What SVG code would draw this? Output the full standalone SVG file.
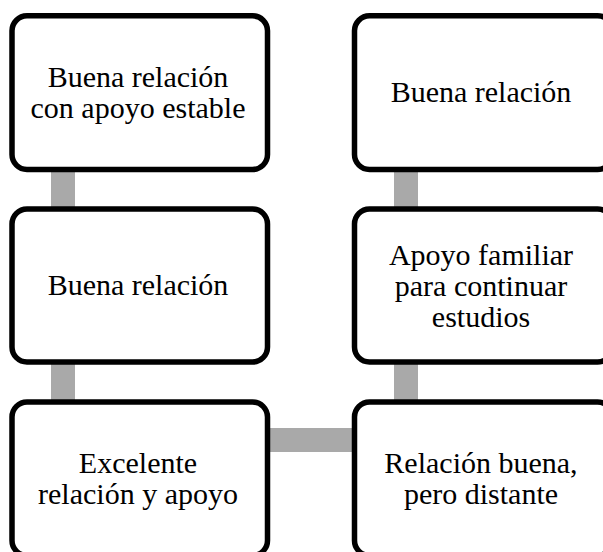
<svg xmlns="http://www.w3.org/2000/svg" width="603" height="552" viewBox="0 0 603 552">
<rect width="603" height="552" fill="#fff"/>
<g id="connectors" fill="#a9a9a9">
<rect x="51" y="169" width="24" height="42"/>
<rect x="51" y="362" width="24" height="42"/>
<rect x="394" y="169" width="24" height="42"/>
<rect x="394" y="362" width="24" height="42"/>
<rect x="267" y="428" width="88" height="24"/>
</g>
<g id="node1">
<rect x="12" y="15.8" width="255.5" height="153.7" rx="15" fill="#fff" stroke="#000" stroke-width="5.5"/>
<text x="138" y="87" style="font-family:'Liberation Serif',serif;font-size:30px" text-anchor="middle">Buena relación</text>
<text x="138" y="118" style="font-family:'Liberation Serif',serif;font-size:30px" text-anchor="middle">con apoyo estable</text>
</g>
<g id="node2">
<rect x="12" y="209" width="255.5" height="153" rx="15" fill="#fff" stroke="#000" stroke-width="5.5"/>
<text x="138" y="295" style="font-family:'Liberation Serif',serif;font-size:30px" text-anchor="middle">Buena relación</text>
</g>
<g id="node3">
<rect x="12" y="402" width="255.5" height="153.5" rx="15" fill="#fff" stroke="#000" stroke-width="5.5"/>
<text x="138" y="473" style="font-family:'Liberation Serif',serif;font-size:30px" text-anchor="middle">Excelente</text>
<text x="138" y="504" style="font-family:'Liberation Serif',serif;font-size:30px" text-anchor="middle">relación y apoyo</text>
</g>
<g id="node4">
<rect x="354.5" y="15.8" width="258" height="153.7" rx="15" fill="#fff" stroke="#000" stroke-width="5.5"/>
<text x="481" y="102" style="font-family:'Liberation Serif',serif;font-size:30px" text-anchor="middle">Buena relación</text>
</g>
<g id="node5">
<rect x="354.5" y="209" width="258" height="153" rx="15" fill="#fff" stroke="#000" stroke-width="5.5"/>
<text x="481" y="264.5" style="font-family:'Liberation Serif',serif;font-size:30px" text-anchor="middle">Apoyo familiar</text>
<text x="481" y="295.5" style="font-family:'Liberation Serif',serif;font-size:30px" text-anchor="middle">para continuar</text>
<text x="481" y="326.5" style="font-family:'Liberation Serif',serif;font-size:30px" text-anchor="middle">estudios</text>
</g>
<g id="node6">
<rect x="354.5" y="402" width="258" height="153.5" rx="15" fill="#fff" stroke="#000" stroke-width="5.5"/>
<text x="481" y="473" style="font-family:'Liberation Serif',serif;font-size:30px" text-anchor="middle">Relación buena,</text>
<text x="481" y="504" style="font-family:'Liberation Serif',serif;font-size:30px" text-anchor="middle">pero distante</text>
</g>
</svg>
